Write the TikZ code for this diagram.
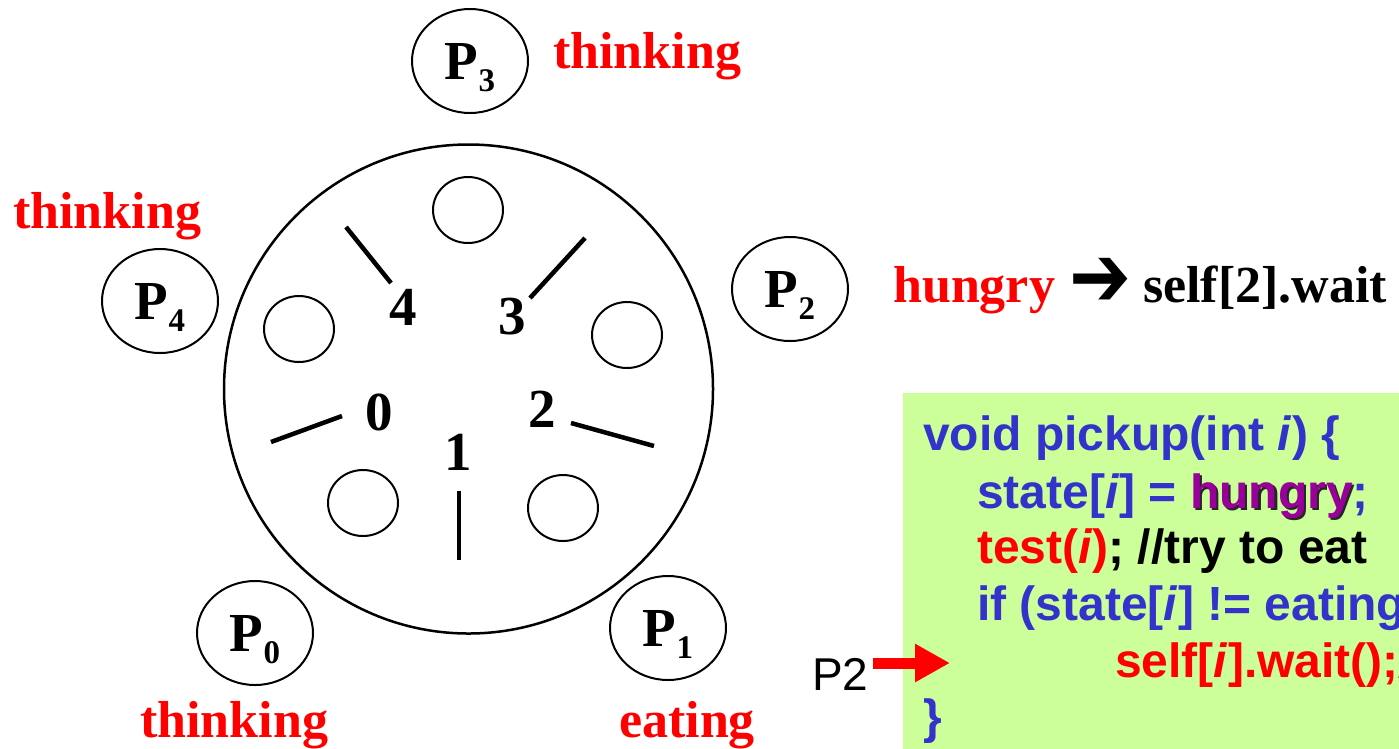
\documentclass[tikz,border=0pt]{standalone}
\usepackage{fontspec}
\setmainfont{Liberation Serif}
\newfontfamily\arial{Liberation Sans}
\newfontfamily\djv{DejaVu Sans}
\usetikzlibrary{shapes.geometric,arrows.meta}
\definecolor{codeblue}{RGB}{51,51,204}
\definecolor{codegreen}{RGB}{204,255,153}
\definecolor{hpurple}{RGB}{153,0,153}
\newcommand{\psub}[1]{\smash{\raisebox{-12pt}{\fontsize{33}{33}\selectfont #1}}}
\newcommand{\shadowed}[1]{\makebox[0pt][l]{\hspace{2.5pt}\raisebox{-2.5pt}{\color{black!85}#1}}#1}
\begin{document}
\begin{tikzpicture}[x=1pt,y=-1pt,
  phil/.style={ellipse,draw,line width=2pt,minimum width=116pt,minimum height=104pt,inner sep=0pt,font=\fontsize{55}{55}\selectfont\bfseries},
  plate/.style={ellipse,draw,line width=2pt,minimum width=70pt,minimum height=66pt,inner sep=0pt},
  stick/.style={line width=4.5pt},
  num/.style={font=\fontsize{55}{55}\selectfont\bfseries,inner sep=0pt},
  statelbl/.style={text=red,font=\fontsize{52}{52}\selectfont\bfseries,anchor=base west,inner sep=0pt},
  codeline/.style={anchor=base west,inner sep=0pt,font=\arial\bfseries\fontsize{48}{48}\selectfont,text=codeblue}]
\clip (0,0) rectangle (1399,748);
% table
\node[circle,draw,line width=2.5pt,minimum size=489pt,inner sep=0pt] (table) at (468.5,389) {};
% plates
\node[plate] (pl3) at (468,210) {};
\node[plate] (pl4) at (299,329) {};
\node[plate] (pl2) at (627,335) {};
\node[plate] (pl0) at (363,503) {};
\node[plate] (pl1) at (563,508) {};
% chopsticks
\draw[stick] (346,227) -- (391,283);
\draw[stick] (585,238) -- (530,298);
\draw[stick] (271,442) -- (342,416);
\draw[stick] (571,423) -- (654,446);
\draw[stick] (459,491) -- (459,560);
% chopstick numbers
\node[num] (n4) at (403,307) {4};
\node[num] (n3) at (512,317) {3};
\node[num] (n0) at (379,412) {0};
\node[num] (n2) at (542,409) {2};
\node[num] (n1) at (458,452) {1};
% philosophers
\node[phil] (p3) at (470,61) {P\psub{3}};
\node[phil] (p4) at (160,301) {P\psub{4}};
\node[phil] (p2) at (790,289) {P\psub{2}};
\node[phil] (p0) at (255,633) {P\psub{0}};
\node[phil] (p1) at (668,628) {P\psub{1}};
% states
\node[statelbl] (s3) at (553,68) {thinking};
\node[statelbl] (s4) at (13,228) {thinking};
\node[statelbl] (s0) at (140,737) {thinking};
\node[statelbl] (s1) at (619,737) {eating};
% hungry line
\node[statelbl] (s2) at (893,302) {hungry};
\node[font=\djv\fontsize{74}{74}\selectfont,inner sep=0pt] (harr) at (1100,282) {\scalebox{1}[1.18]{➔}};
\node[statelbl,text=black] (wait) at (1143,302) {self[2].wait};
% code box
\node[fill=codegreen,anchor=north west,minimum width=520pt,minimum height=380pt,inner sep=0pt] (box) at (903,393) {};
\node[codeline] (c1) at (923,450) {void pickup(int \textit{i}) \{};
\node[codeline] (c2) at (977,508) {state[\textit{i}] = {\color{hpurple}\shadowed{hungry}};};
\node[codeline] (c3) at (977,563) {{\color{red}test(\textit{i})}{\color{black}; //try to eat}};
\node[codeline] (c4) at (977,620) {if (state[\textit{i}] != eating)};
\node[codeline,text=red] (c5) at (1115,677) {self[\textit{i}].wait();{\color{black}//}};
\node[codeline] (c6) at (923,733) {\}};
% P2 pointer
\node[font=\arial\fontsize{46}{46}\selectfont,anchor=base west,inner sep=0pt] (p2lbl) at (812,690) {P2};
\coordinate (tip) at (950,663);
\draw[red,line width=11pt,-{Triangle[length=35pt,width=36pt]}] ([xshift=4pt]p2lbl.east |- tip) -- (tip);
\end{tikzpicture}
\end{document}
